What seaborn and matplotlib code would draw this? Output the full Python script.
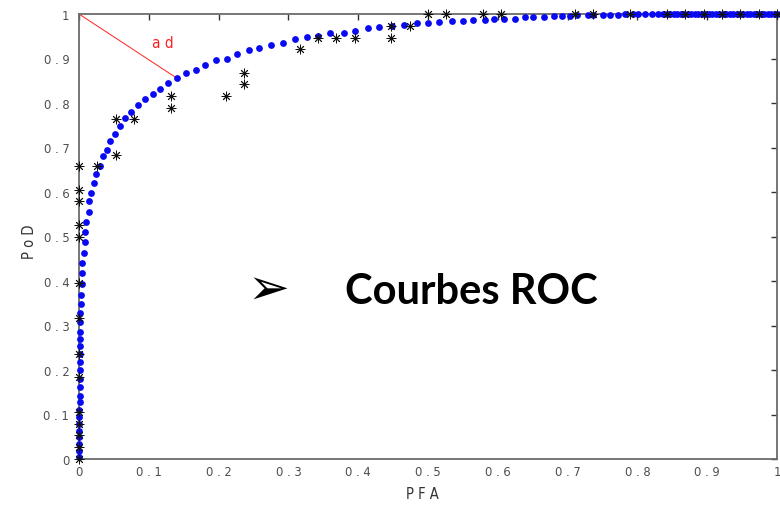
import matplotlib
matplotlib.use("Agg")
import matplotlib.pyplot as plt
import seaborn as sns
import pandas as pd

# ROC curve (model), sampled thresholds
roc_pfa = [0.000, 0.000, 0.000, 0.000, 0.000, 0.000, 0.000, 0.000, 0.001, 0.001,
           0.001, 0.001, 0.001, 0.001, 0.001, 0.001, 0.002, 0.002, 0.002, 0.002,
           0.003, 0.003, 0.004, 0.005, 0.005, 0.007, 0.008, 0.008, 0.010, 0.014,
           0.015, 0.017, 0.022, 0.025, 0.030, 0.034, 0.040, 0.044, 0.052, 0.059,
           0.066, 0.075, 0.084, 0.095, 0.106, 0.116, 0.128, 0.140, 0.154, 0.168,
           0.181, 0.196, 0.212, 0.226, 0.243, 0.258, 0.275, 0.292, 0.310, 0.326,
           0.343, 0.360, 0.380, 0.396, 0.414, 0.430, 0.448, 0.465, 0.484, 0.500,
           0.516, 0.534, 0.550, 0.565, 0.582, 0.595, 0.609, 0.625, 0.639, 0.651,
           0.666, 0.680, 0.692, 0.703, 0.713, 0.729, 0.736, 0.751, 0.761, 0.772,
           0.782, 0.794, 0.801, 0.811, 0.821, 0.830, 0.837, 0.842, 0.847, 0.852,
           0.857, 0.862, 0.867, 0.872, 0.877, 0.882, 0.887, 0.892, 0.897, 0.902,
           0.907, 0.912, 0.917, 0.922, 0.927, 0.932, 0.937, 0.942, 0.947, 0.952,
           0.957, 0.962, 0.967, 0.972, 0.977, 0.982, 0.987, 0.992, 0.997, 1.000]
roc_pod = [0.004, 0.019, 0.034, 0.049, 0.064, 0.079, 0.094, 0.109, 0.127, 0.142,
           0.161, 0.180, 0.201, 0.217, 0.236, 0.255, 0.270, 0.286, 0.307, 0.327,
           0.348, 0.369, 0.393, 0.417, 0.440, 0.464, 0.488, 0.509, 0.532, 0.556,
           0.579, 0.597, 0.620, 0.640, 0.659, 0.680, 0.695, 0.715, 0.731, 0.748,
           0.766, 0.780, 0.795, 0.809, 0.821, 0.832, 0.844, 0.856, 0.867, 0.875,
           0.886, 0.896, 0.900, 0.910, 0.919, 0.924, 0.931, 0.935, 0.944, 0.948,
           0.950, 0.957, 0.958, 0.962, 0.969, 0.971, 0.974, 0.975, 0.980, 0.980,
           0.982, 0.985, 0.984, 0.987, 0.987, 0.989, 0.989, 0.989, 0.994, 0.994,
           0.994, 0.996, 0.996, 0.996, 0.997, 0.997, 0.998, 0.998, 0.998, 0.998,
           0.999, 0.999, 0.999, 0.999, 0.999, 0.999, 0.999, 0.999, 0.999, 0.999,
           0.999, 0.999, 0.999, 0.999, 0.999, 0.999, 0.999, 0.999, 0.999, 0.999,
           0.999, 0.999, 0.999, 0.999, 0.999, 0.999, 0.999, 0.999, 0.999, 0.999,
           0.999, 0.999, 0.999, 0.999, 0.999, 0.999, 0.999, 0.999, 0.999, 0.999]

# Empirical operating points
emp_pfa = [0.000, 0.000, 0.000, 0.000, 0.000, 0.000, 0.000, 0.000, 0.000, 0.000,
           0.000, 0.000, 0.000, 0.000, 0.026, 0.053, 0.053, 0.079, 0.132, 0.132,
           0.211, 0.237, 0.237, 0.316, 0.342, 0.368, 0.395, 0.447, 0.447, 0.474,
           0.500, 0.526, 0.579, 0.605, 0.711, 0.737, 0.789, 0.842, 0.868, 0.895,
           0.921, 0.947, 0.974, 1.000]
emp_pod = [0.000, 0.026, 0.053, 0.079, 0.105, 0.184, 0.237, 0.316, 0.395, 0.500,
           0.526, 0.579, 0.605, 0.658, 0.658, 0.684, 0.763, 0.763, 0.789, 0.816,
           0.816, 0.842, 0.868, 0.921, 0.947, 0.947, 0.947, 0.947, 0.974, 0.974,
           1.000, 1.000, 1.000, 1.000, 1.000, 1.000, 1.000, 1.000, 1.000, 1.000,
           1.000, 1.000, 1.000, 1.000]

# Distance from the ideal corner (0, 1) to the closest curve point
ad_pfa = [0.000, 0.140]
ad_pod = [1.000, 0.856]

tick_values = [0, 0.1, 0.2, 0.3, 0.4, 0.5, 0.6, 0.7, 0.8, 0.9, 1]
tick_labels = ["0", "0 . 1", "0 . 2", "0 . 3", "0 . 4", "0 . 5",
               "0 . 6", "0 . 7", "0 . 8", "0 . 9", "1"]

sns.set_theme(style="white")
plt.rcParams["font.family"] = ["DejaVu Sans"]

W, H = 780, 506
fig = plt.figure(figsize=(W / 100, H / 100), dpi=100)
ax = fig.add_axes([79 / W, 1 - 460 / H, 698 / W, 445 / H])

roc_df = pd.DataFrame({"PFA": roc_pfa, "PoD": roc_pod})
emp_df = pd.DataFrame({"PFA": emp_pfa, "PoD": emp_pod})
ad_df = pd.DataFrame({"PFA": ad_pfa, "PoD": ad_pod})

sns.lineplot(data=ad_df, x="PFA", y="PoD", ax=ax, color="#ff2020",
             linewidth=0.7, sort=False, estimator=None, zorder=2)
sns.scatterplot(data=roc_df, x="PFA", y="PoD", ax=ax, color="#0a0af2",
                s=24, linewidth=0, zorder=3, clip_on=False)
sns.scatterplot(data=emp_df, x="PFA", y="PoD", ax=ax, color="#111111",
                marker=(8, 2, 0), s=42, linewidth=0.65, zorder=4, clip_on=False)

ax.set_xlim(0, 1)
ax.set_ylim(0, 1)

tick_font = dict(family=["Liberation Sans Narrow", "DejaVu Sans"],
                 stretch="condensed", size=9.3, color="#4d4d4d")
ax.set_xticks(tick_values)
ax.set_yticks(tick_values)
ax.set_xticklabels(tick_labels, fontdict=tick_font)
ax.set_yticklabels(tick_labels, fontdict=tick_font)
ax.tick_params(axis="both", direction="in", length=4.5, width=1.0,
               colors="#333333", top=True, right=True,
               labelcolor="#4d4d4d")
ax.tick_params(axis="y", pad=7)
ax.tick_params(axis="x", pad=4)

for side in ["left", "bottom", "top", "right"]:
    ax.spines[side].set_visible(True)
    ax.spines[side].set_color("#6b6b6b")
    ax.spines[side].set_linewidth(1.3)

ax.set_xlabel("")
ax.set_ylabel("")

label_font = dict(family=["Liberation Sans Narrow", "DejaVu Sans"],
                  stretch="condensed", size=10.5, color="#333333")
fig.text(422 / W, 1 - 495 / H, "P F A", ha="center", va="center", **label_font)
fig.text(29 / W, 1 - 242 / H, "P o D", ha="center", va="center",
         rotation=90, **label_font)

ax.text(0.12, 0.937, "a d", color="#ff2020", ha="center", va="center",
        family=["Liberation Sans Narrow", "DejaVu Sans"], stretch="condensed",
        size=11)

fig.text(268 / W, 1 - 290 / H, "\u27a2", ha="center", va="center",
         family=["DejaVu Sans"], size=36, color="black")
fig.text(345 / W, 1 - 292 / H, "Courbes ROC", ha="left", va="center",
         family=["Lato", "DejaVu Sans"], fontweight="bold", size=30,
         color="black")

fig.savefig("out.png", dpi=100, facecolor="white")
